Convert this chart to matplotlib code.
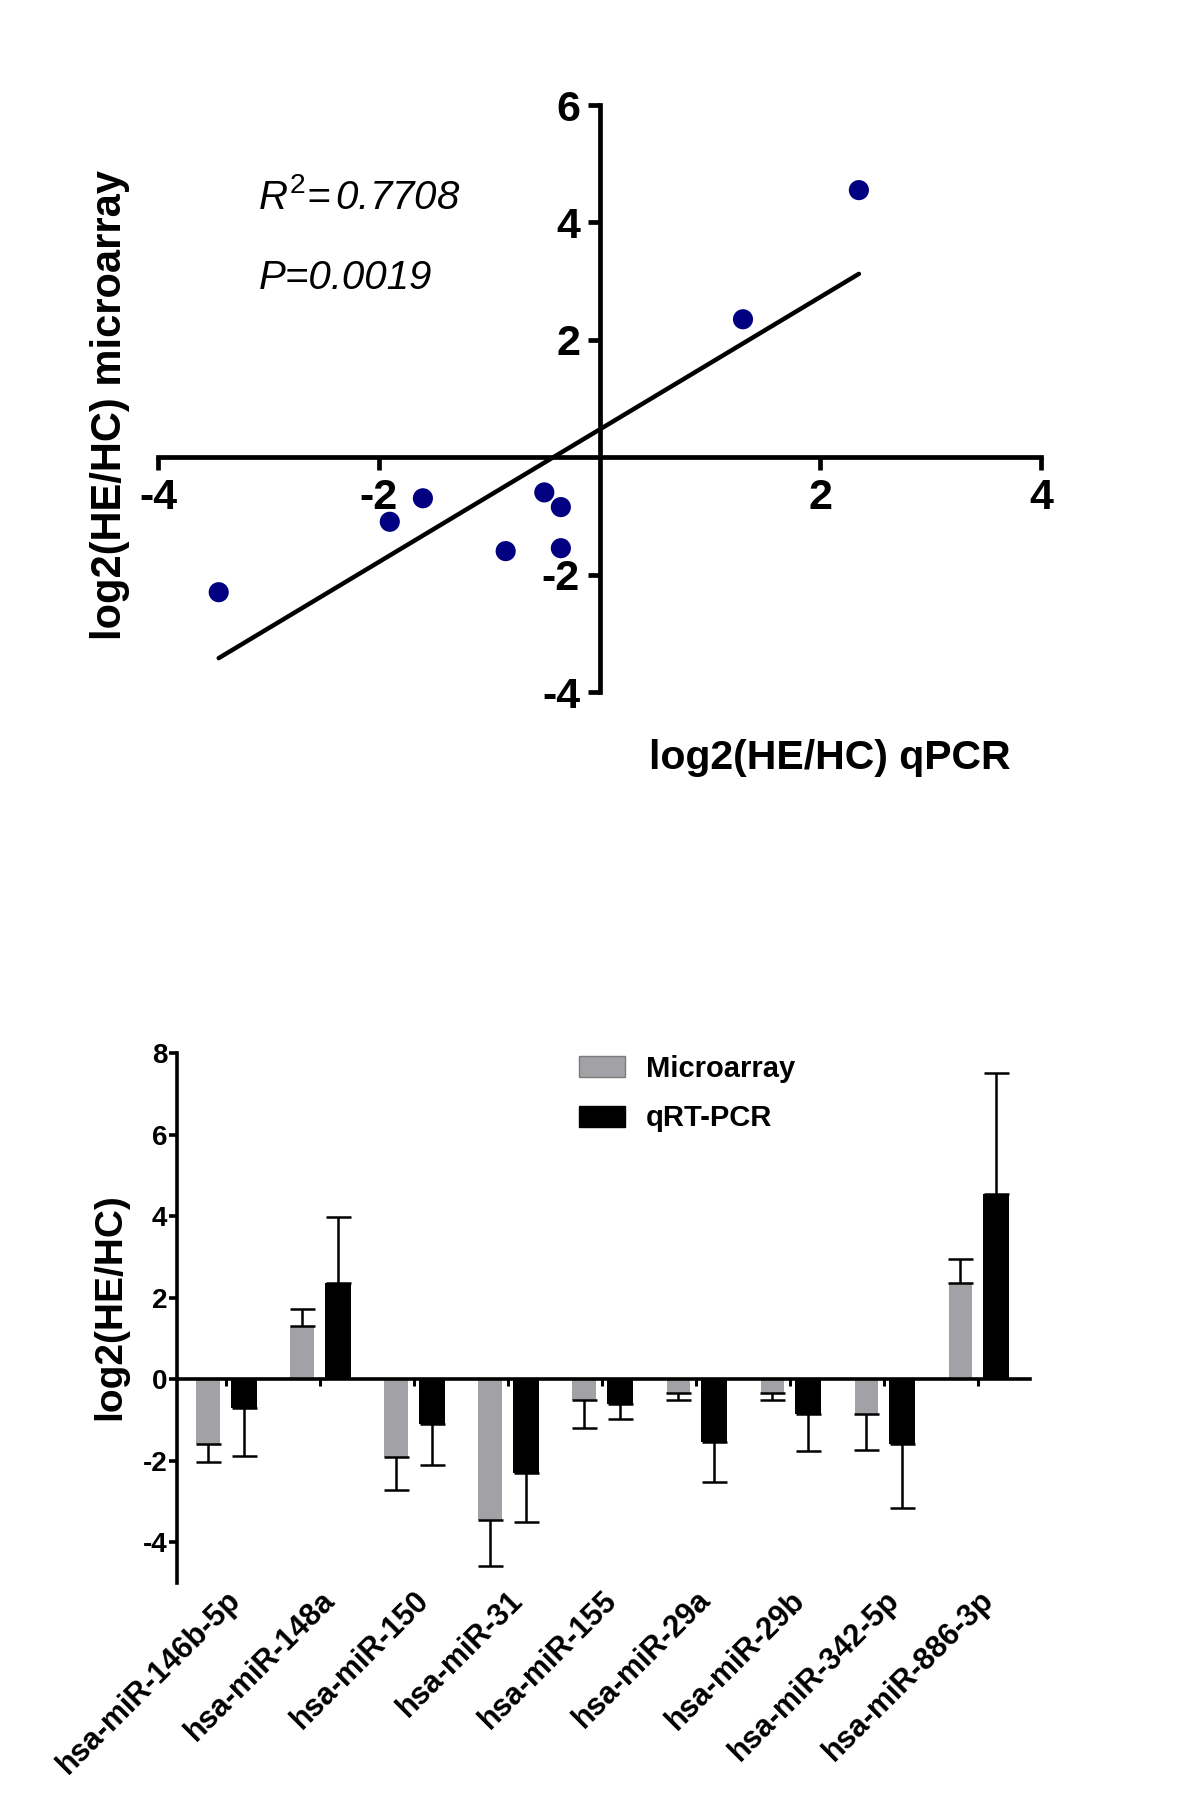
import numpy as np
import matplotlib
matplotlib.use("Agg")
import matplotlib.pyplot as plt
from matplotlib.patches import Patch

plt.rcParams['font.family'] = ['Liberation Sans', 'DejaVu Sans']
plt.rcParams['mathtext.fontset'] = 'custom'
plt.rcParams['mathtext.it'] = 'Liberation Sans:italic'
plt.rcParams['mathtext.rm'] = 'Liberation Sans'
plt.rcParams['axes.unicode_minus'] = False

# values
mirnas = ["hsa-miR-146b-5p", "hsa-miR-148a", "hsa-miR-150", "hsa-miR-31", "hsa-miR-155",
          "hsa-miR-29a", "hsa-miR-29b", "hsa-miR-342-5p", "hsa-miR-886-3p"]
microarray = [-1.6, 1.3, -1.9, -3.45, -0.5, -0.35, -0.35, -0.85, 2.35]
microarray_err = [0.42, 0.43, 0.83, 1.14, 0.69, 0.17, 0.15, 0.89, 0.59]
qpcr = [-0.7, 2.35, -1.1, -2.3, -0.6, -1.55, -0.85, -1.6, 4.55]
qpcr_err = [1.18, 1.63, 1.0, 1.2, 0.37, 0.97, 0.92, 1.57, 2.96]
r2_value = "0.7708"
p_value = "0.0019"

GRAY = '#a2a2a6'
NAVY = '#000080'


def one_sided(vals, errs):
    # error bar drawn only away from zero
    lower = [e if v < 0 else 0 for v, e in zip(vals, errs)]
    upper = [e if v > 0 else 0 for v, e in zip(vals, errs)]
    return [lower, upper]


fig = plt.figure(figsize=(12, 18.14), dpi=100)

# ---- scatter / correlation ----
ax1 = fig.add_axes([158 / 1200, 1 - 692 / 1814, (1041 - 158) / 1200, (692 - 105) / 1814])
ax1.scatter(microarray, qpcr, s=210, color=NAVY, edgecolors='none', zorder=3)
slope, intercept = np.polyfit(microarray, qpcr, 1)
xs = np.array([min(microarray), max(microarray)])
ax1.plot(xs, slope * xs + intercept, color='black', lw=3.2, solid_capstyle='round', zorder=2)
ax1.set_xlim(-4, 4)
ax1.set_ylim(-4, 6)
for s in ['top', 'right']:
    ax1.spines[s].set_visible(False)
for s in ['left', 'bottom']:
    ax1.spines[s].set_position(('data', 0))
    ax1.spines[s].set_linewidth(3.4)
ax1.set_xticks([-4, -2, 2, 4])
ax1.set_yticks([-4, -2, 2, 4, 6])
ax1.tick_params(axis='both', length=9, width=3.4, labelsize=31, direction='out')
ax1.tick_params(axis='x', pad=6)
ax1.tick_params(axis='y', pad=5)
for lab in ax1.get_xticklabels() + ax1.get_yticklabels():
    lab.set_fontweight('bold')
ax1.text(-3.09, 4.43, r'$\mathit{R}^{\mathit{2}}$' + '=' + r'$\,$' + r2_value, fontsize=29,
         fontstyle='italic', ha='left', va='center')
ax1.text(-3.09, 3.05, 'P=' + p_value, fontsize=29, fontstyle='italic', ha='left', va='center')

fig.text(110 / 1200, 1 - 405 / 1814, 'log2(HE/HC) microarray', rotation=90, fontsize=30,
         fontweight='bold', ha='center', va='center')
fig.text(830 / 1200, 1 - 758 / 1814, 'log2(HE/HC) qPCR', fontsize=29.5,
         fontweight='bold', ha='center', va='center')

# ---- bar chart ----
ax2 = fig.add_axes([177 / 1200, 1 - 1583 / 1814, (1030 - 177) / 1200, (1583 - 1053) / 1814])
x = np.arange(len(mirnas))
ekw = dict(elinewidth=1.8, capthick=1.8, ecolor='black')
ax2.bar(x - 0.19, microarray, 0.25, color=GRAY, yerr=one_sided(microarray, microarray_err),
        capsize=9, error_kw=ekw, zorder=2)
ax2.bar(x + 0.19, qpcr, 0.28, color='black', yerr=one_sided(qpcr, qpcr_err),
        capsize=9, error_kw=ekw, zorder=2)
ax2.set_xlim(-0.52, 8.55)
ax2.set_ylim(-5, 8)
for s in ['top', 'right']:
    ax2.spines[s].set_visible(False)
ax2.spines['bottom'].set_position(('data', 0))
ax2.spines['bottom'].set_linewidth(2.6)
ax2.spines['left'].set_linewidth(2.6)
ax2.set_yticks([-4, -2, 0, 2, 4, 6, 8])
ax2.set_xticks(x)
ax2.set_xticklabels([])
ax2.tick_params(axis='y', length=6, width=2.6, labelsize=20, pad=1)
ax2.tick_params(axis='x', length=5, width=2.2)
for lab in ax2.get_yticklabels():
    lab.set_fontweight('bold')
for i, name in enumerate(mirnas):
    ax2.text(i + 0.0, -5.05, name, rotation=45, ha='right', va='top', rotation_mode='anchor',
             fontsize=22, fontweight='bold')

fig.text(110 / 1200, 1 - 1307 / 1814, 'log2(HE/HC)', rotation=90, fontsize=28,
         fontweight='bold', ha='center', va='center')

handles = [Patch(facecolor=GRAY, edgecolor='#7a7a7a'), Patch(facecolor='black', edgecolor='black')]
fig.legend(handles, ['Microarray', 'qRT-PCR'], loc='upper left',
           bbox_to_anchor=(564 / 1200, 1 - 1040 / 1814), bbox_transform=fig.transFigure,
           frameon=False, borderpad=0, handlelength=1.6, handleheight=0.75,
           handletextpad=0.7, labelspacing=0.75, prop=dict(weight='bold', size=21))

fig.savefig('out.png', dpi=100)
